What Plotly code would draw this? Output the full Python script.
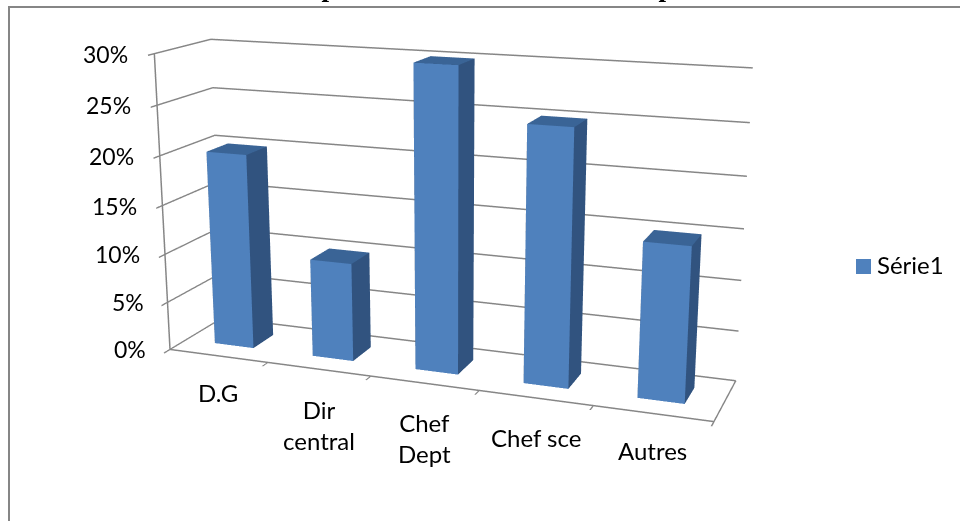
import plotly.graph_objects as go

categories = ["D.G", "Dir<br>central", "Chef<br>Dept", "Chef sce", "Autres"]
values = [20, 10, 30, 25, 15]
percent_ticks = [0, 5, 10, 15, 20, 25, 30]
series_name = "Série1"
title_text = "Graphe n° 11 : La fonction des répondants"

# Camera and box proportions of the 3D scene
EYE = dict(x=1.6349, y=-4.3439, z=1.1864)
CENTER = dict(x=0.1498, y=-0.3519, z=0)
UP = dict(x=0.0009, y=0, z=1)
ASPECT = dict(x=1.8426, y=0.3659, z=1)

# The scene's field of view is fixed, so a larger page is shifted to give the reference's flatter perspective
FW, FH = 1600, 1244
LEFT, TOP = -350, -373
px = lambda x: (x - LEFT) / FW
py = lambda y: 1 - (y - TOP) / FH

FRONT, SIDE, TOPFACE, GREY = "#4f81bd", "#31537f", "#3a6496", "#868686"
FACES = [((0, 1, 5), FRONT), ((0, 5, 4), FRONT), ((1, 2, 6), SIDE), ((1, 6, 5), SIDE), ((4, 5, 6), TOPFACE),
         ((4, 6, 7), TOPFACE), ((0, 3, 7), SIDE), ((0, 7, 4), SIDE), ((2, 3, 7), SIDE), ((2, 7, 6), SIDE)]

xs, ys, zs, I, J, K, fc = [], [], [], [], [], [], []
for n, v in enumerate(values):
    base = len(xs)
    for h in (0, v):
        for bx, by in ((n + .3, .3), (n + .7, .3), (n + .7, .7), (n + .3, .7)):
            xs.append(bx); ys.append(by); zs.append(h)
    for (a, b, c), col in FACES:
        I.append(base + a); J.append(base + b); K.append(base + c); fc.append(col)

fig = go.Figure(go.Mesh3d(x=xs, y=ys, z=zs, i=I, j=J, k=K, facecolor=fc, flatshading=True, name=series_name,
                          hoverinfo="skip", lighting=dict(ambient=1, diffuse=0, specular=0, fresnel=0, roughness=1)))

axis = dict(showbackground=False, title=dict(text=""), showticklabels=False, showspikes=False, zeroline=False,
            showline=True, linecolor=GREY, linewidth=3, ticks="outside", ticklen=14, tickcolor=GREY, tickwidth=3)
LABEL_FONT = dict(family="Lato", size=24, color="#000")
NUM_FONT = dict(family="Lato", size=23, color="#000")
label_shift = [-20, -24, -23, -23, -21]
num_shift = [-22, -22, -23, -23, -24, -24, -24]
scene_notes = [dict(x=n + .5, y=0, z=0, text=c, showarrow=False, yanchor="top", yshift=label_shift[n], font=LABEL_FONT)
               for n, c in enumerate(categories)]
scene_notes += [dict(x=0, y=0, z=v, text=f"{v}%", showarrow=False, xanchor="right", xshift=num_shift[n], font=NUM_FONT)
                for n, v in enumerate(percent_ticks)]

fig.update_layout(
    width=FW, height=FH, margin=dict(l=0, r=0, t=0, b=0), paper_bgcolor="white", showlegend=False,
    scene=dict(domain=dict(x=[0, 1], y=[0, 1]), aspectmode="manual", aspectratio=ASPECT,
               camera=dict(eye=EYE, center=CENTER, up=UP, projection=dict(type="perspective")),
               xaxis=dict(axis, range=[0, 5], showgrid=False, tickvals=list(range(6))),
               yaxis=dict(axis, range=[0, 1], showgrid=False, tickvals=[0, 1], ticks=""),
               zaxis=dict(axis, range=[0, 30], tickvals=percent_ticks, showgrid=True, gridcolor=GREY, gridwidth=3),
               annotations=scene_notes),
    annotations=[
        dict(text=series_name, x=px(875), y=py(264.5), xref="paper", yref="paper", showarrow=False, xanchor="left",
             font=dict(family="Lato", size=24, color="#000")),
        dict(text=f"<b>{title_text}</b>", x=px(520), y=py(4), xref="paper", yref="paper", showarrow=False,
             yanchor="bottom", font=dict(family="Liberation Serif", size=27, color="#000"))],
    shapes=[
        dict(type="rect", xref="paper", yref="paper", x0=px(9), x1=px(1000), y0=py(560), y1=py(7),
             line=dict(color=GREY, width=2)),
        dict(type="rect", xref="paper", yref="paper", x0=px(856), x1=px(871), y0=py(274), y1=py(259),
             fillcolor=FRONT, line=dict(width=0))])

post = (f"document.documentElement.style.cssText='overflow:hidden;width:960px;height:521px';"
        f"document.body.style.cssText='margin:{TOP}px 0 0 {LEFT}px;overflow:hidden;width:{FW}px;height:{FH}px';")
fig.write_html("out.html", config={"displayModeBar": False}, post_script=post)
